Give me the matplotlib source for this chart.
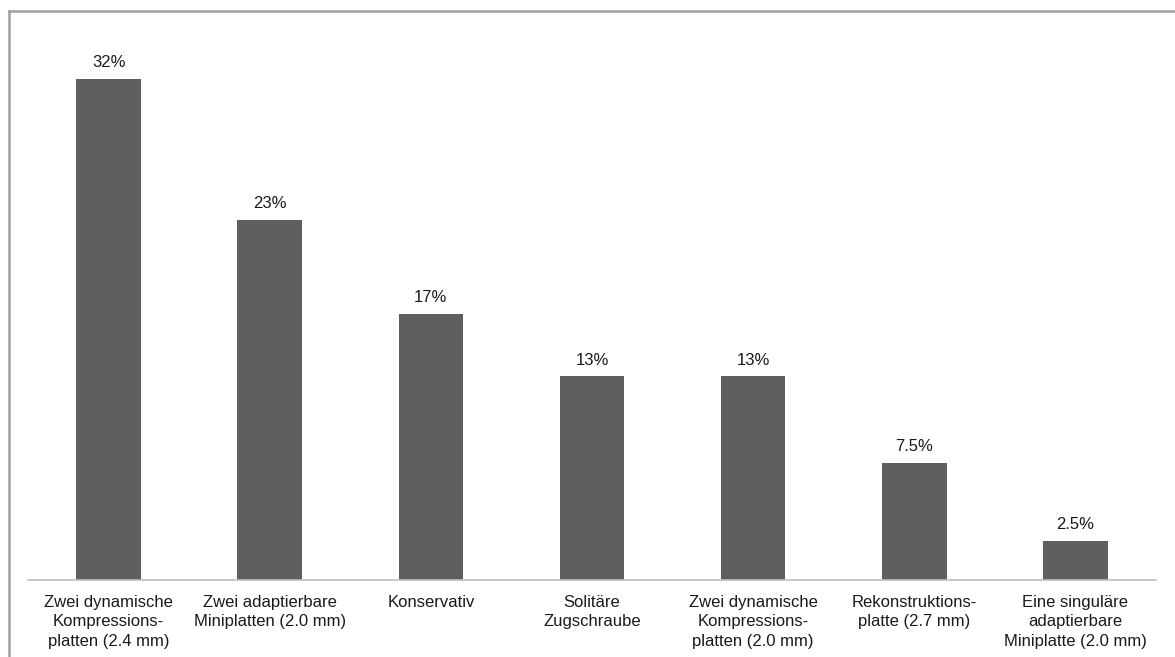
import matplotlib.pyplot as plt
from matplotlib.lines import Line2D

plt.rcParams['font.family'] = ['Liberation Sans', 'DejaVu Sans']

categories = [
    "Zwei dynamische\nKompressions-\nplatten (2.4 mm)",
    "Zwei adaptierbare\nMiniplatten (2.0 mm)",
    "Konservativ",
    "Solitäre\nZugschraube",
    "Zwei dynamische\nKompressions-\nplatten (2.0 mm)",
    "Rekonstruktions-\nplatte (2.7 mm)",
    "Eine singuläre\nadaptierbare\nMiniplatte (2.0 mm)",
]
values = [32, 23, 17, 13, 13, 7.5, 2.5]
value_labels = ["32%", "23%", "17%", "13%", "13%", "7.5%", "2.5%"]

W, H = 1175, 657
fig = plt.figure(figsize=(W / 100, H / 100), dpi=100)
# axes: x 28..1156, baseline at y=580 px, 15.66 px per percent
ax_left, ax_right = 28 / W, 1156 / W
ax_bottom = 1 - 580 / H
ax_top = 1 - (580 - 35 * 15.66) / H
ax = fig.add_axes([ax_left, ax_bottom, ax_right - ax_left, ax_top - ax_bottom])

x = range(len(values))
bars = ax.bar(x, values, width=0.4, color="#5f5f5f")
for b, lab in zip(bars, value_labels):
    ax.text(b.get_x() + b.get_width() / 2, b.get_height() + 0.55, lab,
            ha="center", va="bottom", fontsize=12, color="#1a1a1a")

ax.set_xlim(-0.5, len(values) - 0.5)
ax.set_ylim(0, 35)
ax.set_xticks(list(x))
ax.set_xticklabels(categories, fontsize=12, color="#1a1a1a", linespacing=1.35)
ax.tick_params(axis="x", length=0, pad=11)
ax.set_yticks([])
for s in ["top", "right", "left"]:
    ax.spines[s].set_visible(False)
ax.spines["bottom"].set_color("#bfbfbf")
ax.spines["bottom"].set_linewidth(1.2)

# outer frame (top and left edges visible)
fx, fy = 9 / W, 1 - 11 / H
fig.add_artist(Line2D([fx, 1.0], [fy, fy], transform=fig.transFigure, color="#a0a0a0", lw=1.8))
fig.add_artist(Line2D([fx, fx], [0, fy], transform=fig.transFigure, color="#a0a0a0", lw=1.8))

fig.savefig("out.png", dpi=100)
